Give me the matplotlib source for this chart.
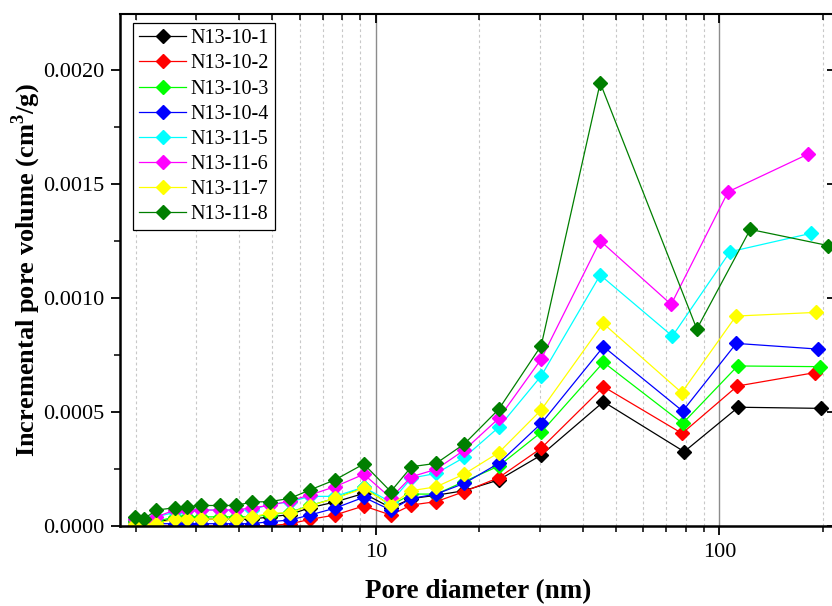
import numpy as np
import matplotlib.pyplot as plt
from matplotlib.ticker import LogLocator, MultipleLocator, NullFormatter, FixedLocator

plt.rcParams['font.family'] = ['Liberation Serif', 'DejaVu Serif']
plt.rcParams['mathtext.fontset'] = 'custom'
plt.rcParams['mathtext.rm'] = 'Liberation Serif'
plt.rcParams['mathtext.bf'] = 'Liberation Serif:bold'

# pore diameters (nm) shared by all samples up to ~30 nm
diam_common = [1.99, 2.11, 2.30, 2.60, 2.82, 3.11, 3.52, 3.92, 4.35, 4.92,
               5.62, 6.43, 7.60, 9.23, 11.06, 12.7, 15.0, 18.1, 22.8, 30.3]

labels = ["N13-10-1", "N13-10-2", "N13-10-3", "N13-10-4",
          "N13-11-5", "N13-11-6", "N13-11-7", "N13-11-8"]
colors = ["#000000", "#ff0000", "#00ff00", "#0000ff",
          "#00ffff", "#ff00ff", "#ffff00", "#007f00"]

# last four diameters differ slightly between samples
diam_tail = [
    [46.0, 79.0, 113.5, 197.6],
    [46.0, 77.9, 112.8, 190.0],
    [46.0, 78.2, 113.0, 196.0],
    [46.0, 78.2, 112.0, 194.0],
    [45.0, 73.0, 107.4, 185.0],
    [45.0, 72.4, 106.0, 181.6],
    [45.9, 77.7, 111.8, 191.0],
    [45.0, 86.0, 123.0, 207.6],
]

vol_n13_10_1 = [0.00002, 0.00001, 0.00002, 0.00003, 0.00003, 0.00003, 0.00003, 0.00003,
                0.00003, 0.00004, 0.00005, 0.00008, 0.000105, 0.000143, 0.00008, 0.00012,
                0.000135, 0.000155, 0.000202, 0.000311, 0.000545, 0.000326, 0.000521, 0.000516]
vol_n13_10_2 = [0.0, 0.0, 0.0, 0.0, 0.0, 0.0, 0.0, 0.0,
                0.0, 0.000002, 0.000009, 0.000029, 0.000048, 0.000088, 0.000048, 0.000092,
                0.000107, 0.000151, 0.000212, 0.000341, 0.000611, 0.000406, 0.000614, 0.000673]
vol_n13_10_3 = [0.00002, 0.00001, 0.00002, 0.00004, 0.00004, 0.00004, 0.00004, 0.00004,
                0.00004, 0.00005, 0.00006, 0.00009, 0.000121, 0.00017, 0.00009, 0.00014,
                0.00014, 0.000195, 0.000263, 0.000411, 0.000718, 0.00045, 0.000702, 0.000699]
vol_n13_10_4 = [0.00001, 0.0, 0.00001, 0.00001, 0.00001, 0.00001, 0.00001, 0.00001,
                0.00001, 0.000019, 0.000026, 0.000048, 0.000078, 0.000126, 0.00007, 0.000121,
                0.00014, 0.000187, 0.000275, 0.00045, 0.000787, 0.000504, 0.000801, 0.000776]
vol_n13_11_5 = [0.00003, 0.00002, 0.00004, 0.00006, 0.00007, 0.00007, 0.00007, 0.00007,
                0.00007, 0.000095, 0.000105, 0.00013, 0.00013, 0.00017, 0.000105, 0.00021,
                0.000231, 0.000301, 0.000433, 0.000658, 0.001101, 0.000833, 0.001203, 0.001284]
vol_n13_11_6 = [0.00003, 0.00002, 0.00004, 0.00007, 0.00007, 0.00007, 0.00007, 0.00007,
                0.00008, 0.00009, 0.00011, 0.000136, 0.000172, 0.000227, 0.000123, 0.000216,
                0.000249, 0.000333, 0.000472, 0.000732, 0.001251, 0.000972, 0.001466, 0.001632]
vol_n13_11_7 = [0.00001, 0.0, 0.00001, 0.00003, 0.00003, 0.00003, 0.00003, 0.00003,
                0.00004, 0.000056, 0.000058, 0.000088, 0.000121, 0.000165, 0.000092, 0.000155,
                0.000172, 0.000228, 0.000322, 0.000509, 0.000889, 0.000585, 0.000921, 0.000937]
vol_n13_11_8 = [0.00004, 0.00003, 0.00007, 0.00008, 0.000085, 0.00009, 0.00009, 0.00009,
                0.000105, 0.000107, 0.000121, 0.000158, 0.000202, 0.000272, 0.000151, 0.00026,
                0.000275, 0.00036, 0.000512, 0.000791, 0.001944, 0.000864, 0.001301, 0.00123]

volumes = [vol_n13_10_1, vol_n13_10_2, vol_n13_10_3, vol_n13_10_4,
           vol_n13_11_5, vol_n13_11_6, vol_n13_11_7, vol_n13_11_8]

fig = plt.figure(figsize=(8.32, 6.06), dpi=100)
ax = fig.add_axes([120 / 832, 80 / 606, 716 / 832, 512 / 606])

for lab, col, tail, vol in zip(labels, colors, diam_tail, volumes):
    ax.plot(diam_common + tail, vol, color=col, lw=0.9, marker='D', ms=7.6,
            mec=col, mfc=col, label=lab)

ax.set_xscale('log')
ax.set_xlim(1.802, 218.5)
ax.set_ylim(0, 0.002246)

ax.xaxis.set_major_locator(FixedLocator([10, 100]))
ax.xaxis.set_minor_locator(LogLocator(base=10, subs=np.arange(2, 10), numticks=20))
ax.xaxis.set_minor_formatter(NullFormatter())
ax.set_xticklabels(["10", "100"])
ax.yaxis.set_major_locator(MultipleLocator(0.0005))
ax.yaxis.set_minor_locator(MultipleLocator(0.00025))
ax.yaxis.set_major_formatter(plt.FuncFormatter(lambda v, p: f"{v:.4f}"))

ax.grid(which='major', axis='x', color='#8c8c8c', lw=1.0, ls='-')
ax.grid(which='minor', axis='x', color='#c8c8c8', lw=0.8, ls=(0, (2.5, 2.5)))
ax.set_axisbelow(True)

ax.tick_params(axis='both', which='major', labelsize=16, width=1.3, length=6.5, direction='out')
ax.tick_params(axis='both', which='minor', width=1.1, length=4, direction='out')
ax.tick_params(axis='x', which='major', pad=6)
ax.tick_params(axis='y', which='major', pad=5)
ax.tick_params(axis='x', which='both', top=True)
ax.tick_params(axis='y', which='major', right=True)
ax.tick_params(axis='y', which='minor', right=False)
# top / right ticks point inward
for t in ax.xaxis.get_major_ticks() + ax.xaxis.get_minor_ticks():
    t.tick2line.set_marker(3)
for t in ax.yaxis.get_major_ticks():
    t.tick2line.set_marker(0)

for s in ['left', 'bottom']:
    ax.spines[s].set_linewidth(1.8)
for s in ['top', 'right']:
    ax.spines[s].set_linewidth(1.5)

ax.set_xlabel("Pore diameter (nm)", fontsize=19.5, fontweight='bold', labelpad=12)
ax.set_ylabel(r"Incremental pore volume (cm$^\mathbf{3}$/g)", fontsize=19,
              fontweight='bold', labelpad=0)

leg = ax.legend(loc='upper left', bbox_to_anchor=(0.013, 0.99), fontsize=14.5,
                frameon=True, fancybox=False, edgecolor='#000000', framealpha=1,
                handlelength=2.3, borderpad=0.3, labelspacing=0.3,
                handletextpad=0.25, borderaxespad=0.2)
leg.get_frame().set_linewidth(0.9)

fig.savefig("out.png", dpi=100)
